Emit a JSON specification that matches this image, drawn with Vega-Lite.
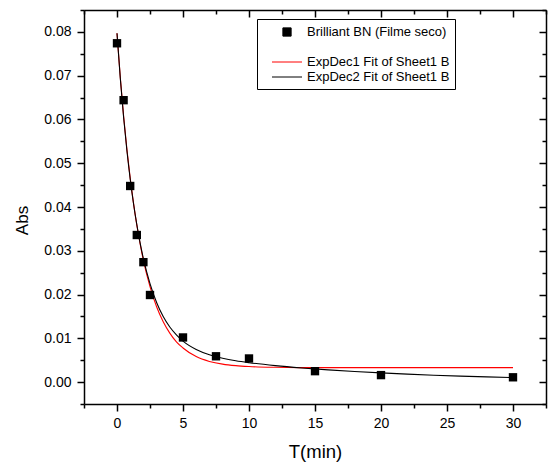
{
  "$schema": "https://vega.github.io/schema/vega-lite/v6.json",
  "width": 462,
  "height": 394,
  "autosize": {"type": "none"},
  "padding": {"left": 84, "top": 10, "right": 3, "bottom": 65},
  "background": "white",
  "config": {
    "font": "Liberation Sans",
    "view": {"stroke": null},
    "axis": {
      "grid": false,
      "domainColor": "black",
      "domainWidth": 1.5,
      "tickColor": "black",
      "tickWidth": 1.5,
      "labelColor": "black",
      "titleColor": "black",
      "labelFont": "Liberation Sans",
      "titleFont": "Liberation Sans",
      "labelFontSize": 14,
      "titleFontWeight": "normal",
      "labelOverlap": false,
      "labelFlush": false
    }
  },
  "data": {
    "values": [
      {"series": "Brilliant BN (Filme seco)", "x": 0, "y": 0.0774},
      {"series": "Brilliant BN (Filme seco)", "x": 0.5, "y": 0.0644},
      {"series": "Brilliant BN (Filme seco)", "x": 1, "y": 0.0448},
      {"series": "Brilliant BN (Filme seco)", "x": 1.5, "y": 0.0336},
      {"series": "Brilliant BN (Filme seco)", "x": 2, "y": 0.0274},
      {"series": "Brilliant BN (Filme seco)", "x": 2.5, "y": 0.0199},
      {"series": "Brilliant BN (Filme seco)", "x": 5, "y": 0.0102},
      {"series": "Brilliant BN (Filme seco)", "x": 7.5, "y": 0.0059},
      {"series": "Brilliant BN (Filme seco)", "x": 10, "y": 0.0054},
      {"series": "Brilliant BN (Filme seco)", "x": 15, "y": 0.0025},
      {"series": "Brilliant BN (Filme seco)", "x": 20, "y": 0.0016},
      {"series": "Brilliant BN (Filme seco)", "x": 30, "y": 0.0011},
      {"series": "ExpDec1 Fit of Sheet1 B", "x": 0, "y": 0.0797},
      {"series": "ExpDec1 Fit of Sheet1 B", "x": 0.25, "y": 0.0696},
      {"series": "ExpDec1 Fit of Sheet1 B", "x": 0.5, "y": 0.0608},
      {"series": "ExpDec1 Fit of Sheet1 B", "x": 0.75, "y": 0.0532},
      {"series": "ExpDec1 Fit of Sheet1 B", "x": 1, "y": 0.0466},
      {"series": "ExpDec1 Fit of Sheet1 B", "x": 1.25, "y": 0.0409},
      {"series": "ExpDec1 Fit of Sheet1 B", "x": 1.5, "y": 0.0359},
      {"series": "ExpDec1 Fit of Sheet1 B", "x": 1.75, "y": 0.0316},
      {"series": "ExpDec1 Fit of Sheet1 B", "x": 2, "y": 0.0278},
      {"series": "ExpDec1 Fit of Sheet1 B", "x": 2.5, "y": 0.0218},
      {"series": "ExpDec1 Fit of Sheet1 B", "x": 3, "y": 0.0172},
      {"series": "ExpDec1 Fit of Sheet1 B", "x": 3.5, "y": 0.0138},
      {"series": "ExpDec1 Fit of Sheet1 B", "x": 4, "y": 0.0112},
      {"series": "ExpDec1 Fit of Sheet1 B", "x": 4.5, "y": 0.0092},
      {"series": "ExpDec1 Fit of Sheet1 B", "x": 5, "y": 0.0078},
      {"series": "ExpDec1 Fit of Sheet1 B", "x": 6, "y": 0.00583},
      {"series": "ExpDec1 Fit of Sheet1 B", "x": 7, "y": 0.00473},
      {"series": "ExpDec1 Fit of Sheet1 B", "x": 8, "y": 0.00411},
      {"series": "ExpDec1 Fit of Sheet1 B", "x": 9, "y": 0.00376},
      {"series": "ExpDec1 Fit of Sheet1 B", "x": 10, "y": 0.00356},
      {"series": "ExpDec1 Fit of Sheet1 B", "x": 12, "y": 0.00338},
      {"series": "ExpDec1 Fit of Sheet1 B", "x": 14, "y": 0.00332},
      {"series": "ExpDec1 Fit of Sheet1 B", "x": 18, "y": 0.0033},
      {"series": "ExpDec1 Fit of Sheet1 B", "x": 22, "y": 0.0033},
      {"series": "ExpDec1 Fit of Sheet1 B", "x": 26, "y": 0.0033},
      {"series": "ExpDec1 Fit of Sheet1 B", "x": 30, "y": 0.0033},
      {"series": "ExpDec2 Fit of Sheet1 B", "x": 0, "y": 0.0797},
      {"series": "ExpDec2 Fit of Sheet1 B", "x": 0.25, "y": 0.0694},
      {"series": "ExpDec2 Fit of Sheet1 B", "x": 0.5, "y": 0.0605},
      {"series": "ExpDec2 Fit of Sheet1 B", "x": 0.75, "y": 0.0529},
      {"series": "ExpDec2 Fit of Sheet1 B", "x": 1, "y": 0.0464},
      {"series": "ExpDec2 Fit of Sheet1 B", "x": 1.25, "y": 0.0408},
      {"series": "ExpDec2 Fit of Sheet1 B", "x": 1.5, "y": 0.036},
      {"series": "ExpDec2 Fit of Sheet1 B", "x": 1.75, "y": 0.0318},
      {"series": "ExpDec2 Fit of Sheet1 B", "x": 2, "y": 0.0282},
      {"series": "ExpDec2 Fit of Sheet1 B", "x": 2.5, "y": 0.0225},
      {"series": "ExpDec2 Fit of Sheet1 B", "x": 3, "y": 0.0182},
      {"series": "ExpDec2 Fit of Sheet1 B", "x": 3.5, "y": 0.015},
      {"series": "ExpDec2 Fit of Sheet1 B", "x": 4, "y": 0.0126},
      {"series": "ExpDec2 Fit of Sheet1 B", "x": 4.5, "y": 0.0108},
      {"series": "ExpDec2 Fit of Sheet1 B", "x": 5, "y": 0.00937},
      {"series": "ExpDec2 Fit of Sheet1 B", "x": 6, "y": 0.00746},
      {"series": "ExpDec2 Fit of Sheet1 B", "x": 7, "y": 0.00625},
      {"series": "ExpDec2 Fit of Sheet1 B", "x": 8, "y": 0.00546},
      {"series": "ExpDec2 Fit of Sheet1 B", "x": 9, "y": 0.00488},
      {"series": "ExpDec2 Fit of Sheet1 B", "x": 10, "y": 0.00444},
      {"series": "ExpDec2 Fit of Sheet1 B", "x": 12, "y": 0.00376},
      {"series": "ExpDec2 Fit of Sheet1 B", "x": 14, "y": 0.00323},
      {"series": "ExpDec2 Fit of Sheet1 B", "x": 16, "y": 0.00279},
      {"series": "ExpDec2 Fit of Sheet1 B", "x": 18, "y": 0.00242},
      {"series": "ExpDec2 Fit of Sheet1 B", "x": 20, "y": 0.0021},
      {"series": "ExpDec2 Fit of Sheet1 B", "x": 22, "y": 0.00182},
      {"series": "ExpDec2 Fit of Sheet1 B", "x": 24, "y": 0.00158},
      {"series": "ExpDec2 Fit of Sheet1 B", "x": 26, "y": 0.00137},
      {"series": "ExpDec2 Fit of Sheet1 B", "x": 28, "y": 0.00119},
      {"series": "ExpDec2 Fit of Sheet1 B", "x": 30, "y": 0.00103}
    ]
  },
  "layer": [
    {
      "transform": [{"filter": "datum.series !== 'Brilliant BN (Filme seco)'"}],
      "mark": {"type": "line", "strokeWidth": 1.1, "interpolate": "monotone"},
      "encoding": {
        "x": {
          "field": "x", "type": "quantitative",
          "scale": {"domain": [-2.5, 32.5], "nice": false, "zero": false},
          "axis": {
            "orient": "bottom",
            "values": [-2.5, 0, 2.5, 5, 7.5, 10, 12.5, 15, 17.5, 20, 22.5, 25, 27.5, 30, 32.5],
            "labelExpr": "datum.value % 5 == 0 ? format(datum.value, 'd') : ''",
            "tickSize": {"condition": {"test": "datum.value % 5 == 0", "value": 7}, "value": 4},
            "labelPadding": 5,
            "title": "T(min)",
            "titleFontSize": 18.5,
            "titlePadding": 12
          }
        },
        "y": {
          "field": "y", "type": "quantitative",
          "scale": {"domain": [-0.005, 0.085], "nice": false, "zero": false},
          "axis": {
            "orient": "left",
            "values": [-0.005, 0, 0.005, 0.01, 0.015, 0.02, 0.025, 0.03, 0.035, 0.04, 0.045, 0.05, 0.055, 0.06, 0.065, 0.07, 0.075, 0.08, 0.085],
            "labelExpr": "abs(round(datum.value * 1000)) % 10 == 0 ? format(datum.value, '.2f') : ''",
            "tickSize": {"condition": {"test": "abs(round(datum.value * 1000)) % 10 == 0", "value": 7}, "value": 4},
            "labelPadding": 6,
            "title": "Abs",
            "titleFontSize": 17,
            "titlePadding": 12,
            "titleY": 210
          }
        },
        "color": {
          "field": "series", "type": "nominal",
          "scale": {
            "domain": ["Brilliant BN (Filme seco)", " ", "ExpDec1 Fit of Sheet1 B", "ExpDec2 Fit of Sheet1 B"],
            "range": ["black", "white", "#ff0000", "black"]
          },
          "legend": {
            "orient": "none",
            "legendX": 173,
            "legendY": 9,
            "title": null,
            "labelFont": "Liberation Sans",
            "labelFontSize": 13,
            "labelColor": "black",
            "labelLimit": 400,
            "strokeColor": "black",
            "fillColor": "white",
            "padding": 5,
            "rowPadding": 0,
            "symbolSize": 225,
            "symbolOffset": 17,
            "labelOffset": 12,
            "encode": {
              "symbols": {
                "update": {
                  "shape": {"signal": "datum.value === 'Brilliant BN (Filme seco)' ? 'M-0.55,-0.55H0.55V0.55H-0.55Z' : 'M-2,0H2'"},
                  "fill": {"signal": "datum.value === 'Brilliant BN (Filme seco)' ? 'black' : 'transparent'"},
                  "stroke": {"signal": "datum.value === 'ExpDec1 Fit of Sheet1 B' ? '#ff0000' : (datum.value === 'ExpDec2 Fit of Sheet1 B' ? 'black' : 'transparent')"},
                  "strokeWidth": {"value": 1},
                  "size": {"value": 225},
                  "opacity": {"value": 1}
                }
              }
            }
          }
        }
      }
    },
    {
      "transform": [{"filter": "datum.series === 'Brilliant BN (Filme seco)'"}],
      "mark": {"type": "point", "shape": "square", "filled": true, "size": 70, "color": "black", "opacity": 1},
      "encoding": {
        "x": {
          "field": "x", "type": "quantitative",
          "scale": {"domain": [-2.5, 32.5], "nice": false, "zero": false},
          "axis": {
            "orient": "top",
            "values": [-2.5, 0, 2.5, 5, 7.5, 10, 12.5, 15, 17.5, 20, 22.5, 25, 27.5, 30, 32.5],
            "labels": false,
            "tickSize": {"condition": {"test": "datum.value % 5 == 0", "value": -7}, "value": -4},
            "title": null
          }
        },
        "y": {
          "field": "y", "type": "quantitative",
          "scale": {"domain": [-0.005, 0.085], "nice": false, "zero": false},
          "axis": {
            "orient": "right",
            "values": [-0.005, 0, 0.005, 0.01, 0.015, 0.02, 0.025, 0.03, 0.035, 0.04, 0.045, 0.05, 0.055, 0.06, 0.065, 0.07, 0.075, 0.08, 0.085],
            "labels": false,
            "tickSize": {"condition": {"test": "abs(round(datum.value * 1000)) % 10 == 0", "value": -7}, "value": -4},
            "title": null
          }
        }
      }
    }
  ],
  "resolve": {"axis": {"x": "independent", "y": "independent"}}
}
